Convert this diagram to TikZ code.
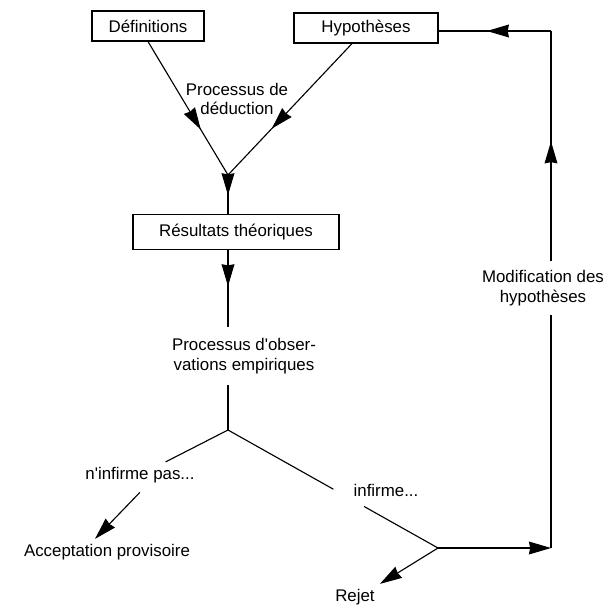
\documentclass[tikz,border=0pt]{standalone}
\usepackage{fontspec}
\setmainfont{Liberation Sans}
\usetikzlibrary{arrows.meta, positioning, decorations.markings}

\tikzset{
    box/.style={draw, rectangle, minimum height=0.75cm, inner sep=2pt},
    lbl/.style={align=center},
    arrowto/.style={-{Stealth[length=0.55cm, width=0.32cm, inset=0.03cm]}},
    midarrow/.style={postaction={decorate}, decoration={markings,
        mark=at position #1 with {\arrow{Stealth[length=0.55cm, width=0.32cm, inset=0.03cm]}}}}
}

\begin{document}
\begin{tikzpicture}[line width=0.8pt, font=\fontsize{12}{14}\selectfont]
    \useasboundingbox (0,0) rectangle (15.175,-15.2);

    % Boxes at the top
    \node[box, minimum width=2.8cm] (Def) at (3.7,-0.65) {Définitions};
    \node[box, minimum width=3.6cm] (Hyp) at (9.15,-0.7) {Hypothèses};
    \node[lbl] (Ded) at (5.925,-2.475) {Processus de\\déduction};
    \coordinate (Join) at (5.7,-4.375);

    % Box for results
    \node[box, minimum width=5.15cm, minimum height=0.875cm] (Res) at (5.9,-5.8) {Résultats théoriques};

    % Observation and its outcomes
    \node[lbl, minimum height=1.42cm] (Obs) at (6.1,-8.9) {Processus d\textquotesingle obser-\\vations empiriques};
    \coordinate (Fork) at (5.7,-10.75);
    \node (NonInf) at (3.5,-11.875) {n\textquotesingle infirme pas...};
    \node (Inf) at (9.65,-12.25) {infirme...};
    \node (Acc) at (2.675,-13.8) {Acceptation provisoire};
    \coordinate (Split) at (10.95,-13.7);
    \node (Rej) at (8.875,-14.925) {Rejet};

    % Feedback loop
    \node[lbl, minimum height=1.325cm] (Mod) at (13.575,-7.2) {Modification des\\hypothèses};
    \coordinate (LoopLow) at (13.775,-13.7);
    \coordinate (LoopHigh) at (13.775,-0.775);

    % Arrows
    \draw[midarrow=0.66] (Def.south) -- (Join);
    \draw[midarrow=0.65] ([xshift=-0.35cm]Hyp.south) -- (Join);
    \draw[midarrow=0.52] (Join) -- (Join |- Res.north);
    \draw[midarrow=0.47] (Join |- Res.south) -- (Join |- Obs.north);
    \draw (Join |- Obs.south) -- (Fork);
    \draw (Fork) -- (NonInf);
    \draw[shorten >=3.0cm] (Fork) -- (Split);
    \draw[shorten <=3.9cm] (Fork) -- (Split);
    \draw[arrowto, shorten <=0.15cm] ([xshift=0.1cm]NonInf.south) -- ([xshift=-0.3cm]Acc.north);
    \draw[arrowto] (Split) -- (Rej.north east);
    \draw[arrowto] (Split) -- (LoopLow);
    \draw (LoopLow) -- (LoopLow |- Mod.south);
    \draw[midarrow=0.52] (LoopHigh |- Mod.north) -- (LoopHigh);
    \draw[midarrow=0.57] (LoopHigh) -- (LoopHigh -| Hyp.east);
\end{tikzpicture}
\end{document}
